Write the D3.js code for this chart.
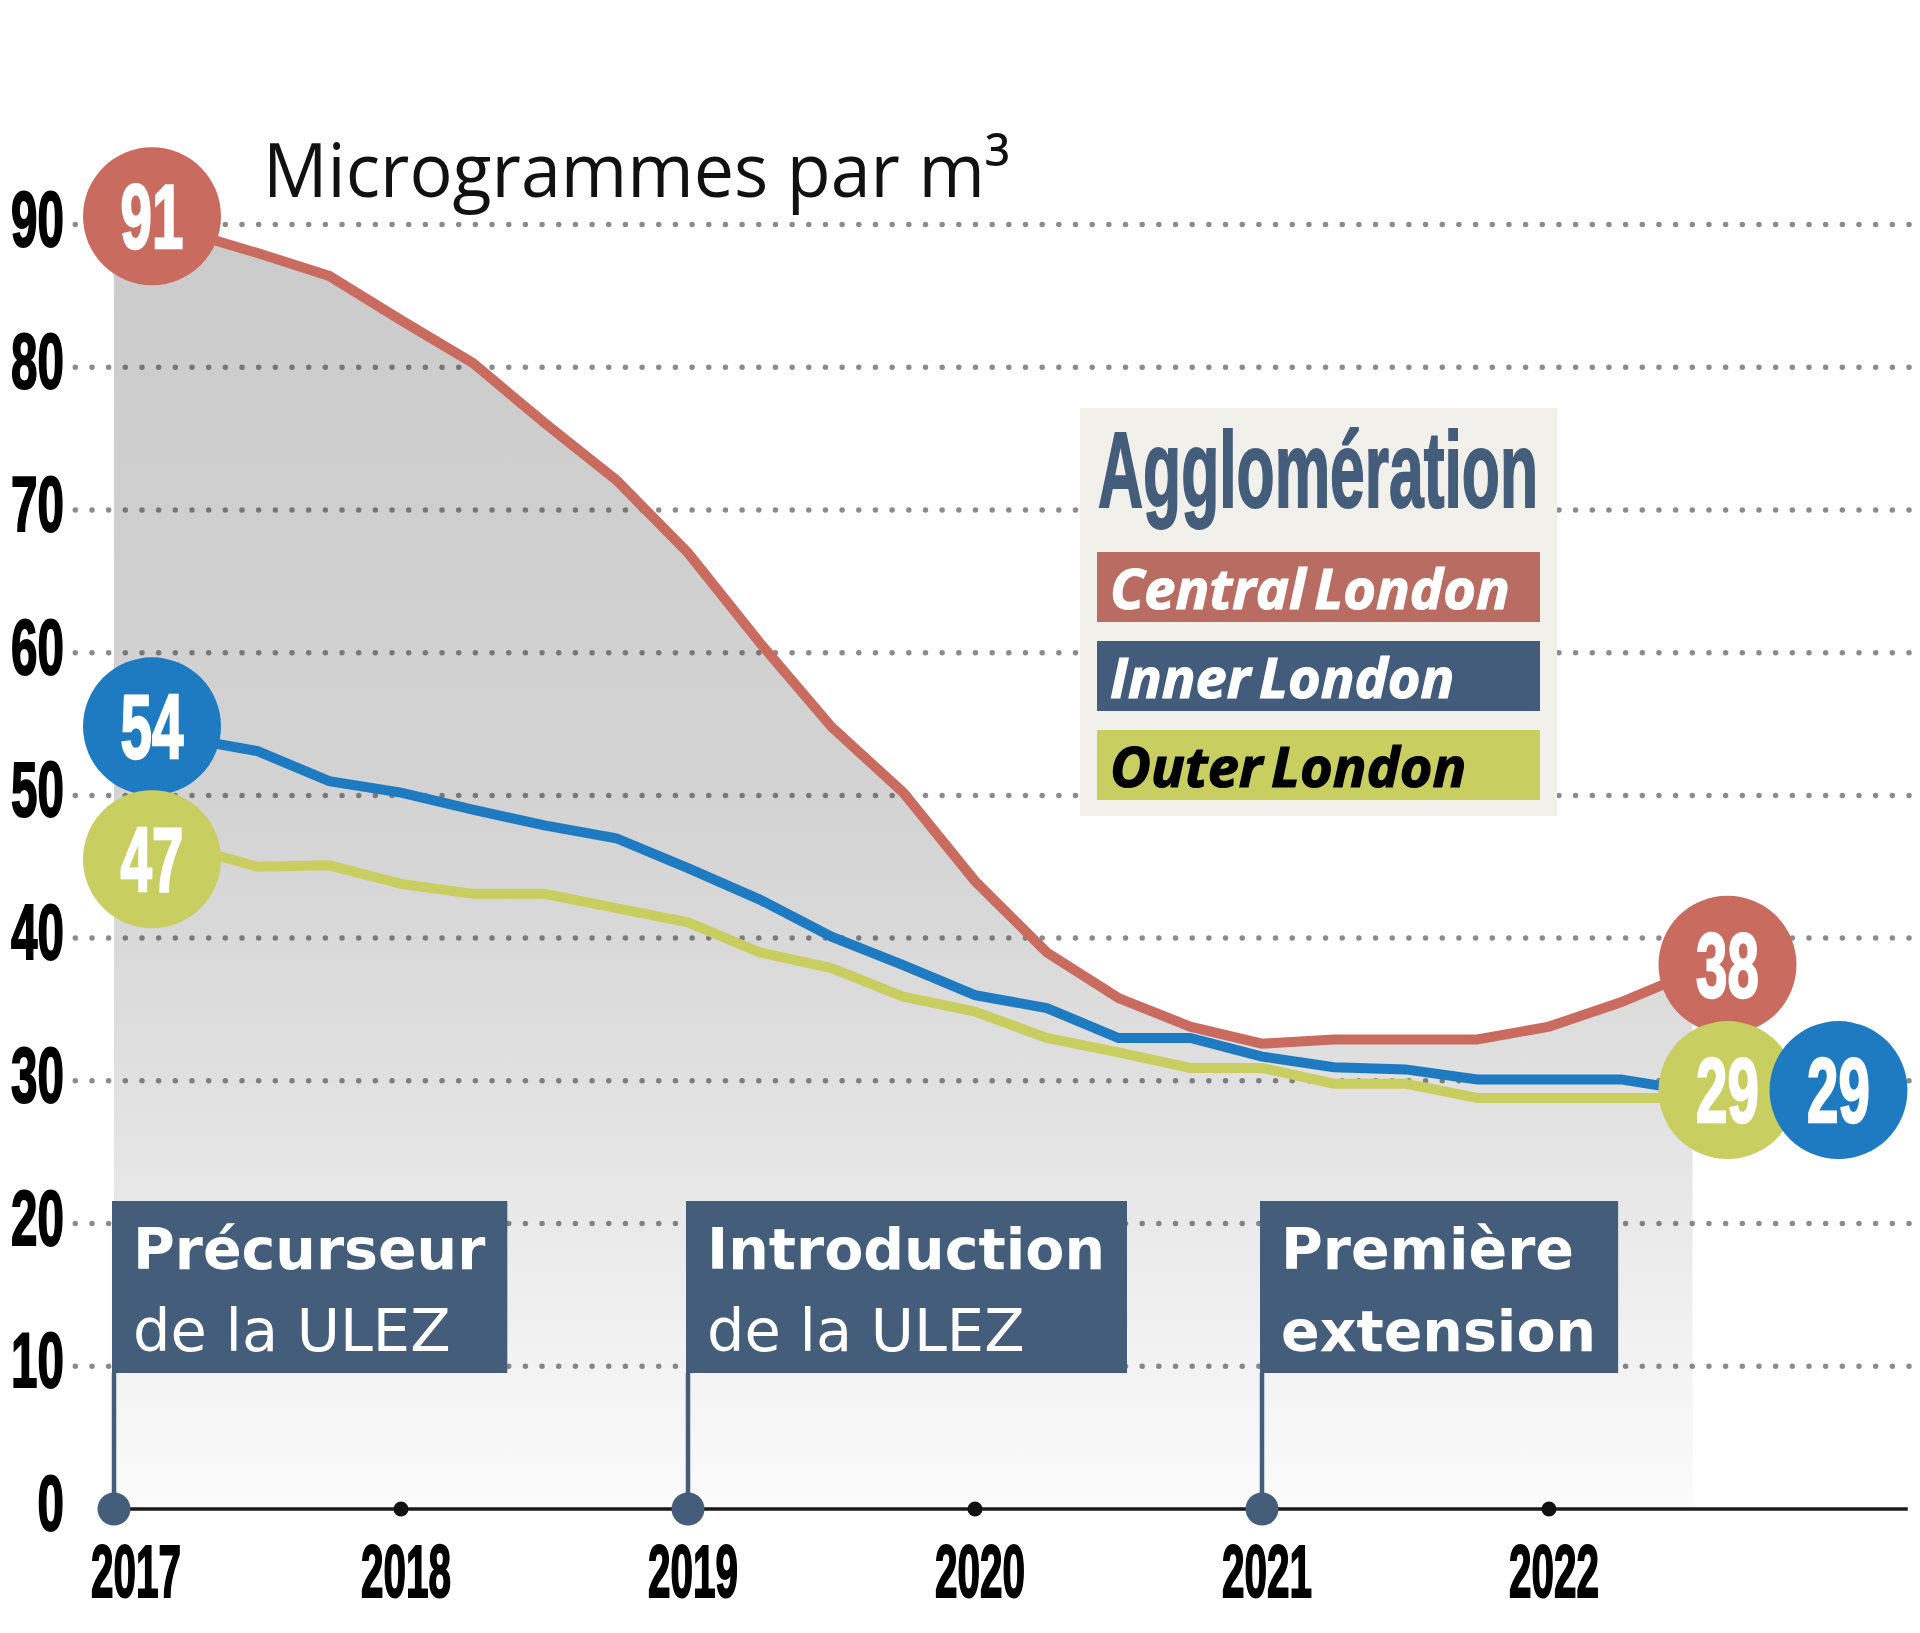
<!DOCTYPE html>
<html>
<head>
<meta charset="utf-8">
<script src="https://cdn.jsdelivr.net/npm/d3@7"></script>
<style>
  html, body { margin: 0; padding: 0; background: #fff; }
  svg { display: block; }
</style>
</head>
<body>
<div id="chart"></div>
<script>
'use strict';

// quarterly readings, fractional years
var periods = [2017, 2017.25, 2017.5, 2017.75, 2018, 2018.25, 2018.5, 2018.75,
               2019, 2019.25, 2019.5, 2019.75, 2020, 2020.25, 2020.5, 2020.75,
               2021, 2021.25, 2021.5, 2021.75, 2022, 2022.25, 2022.5];

var centralLondon = [91, 89.5, 88.0, 86.4, 83.3, 80.3, 76.1, 72.1,
                     67.0, 60.7, 54.8, 50.2, 44.0, 39.0, 35.8, 33.8,
                     32.6, 32.9, 32.9, 32.9, 33.8, 35.5, 37.6];
var innerLondon   = [54.4, 54.0, 53.1, 51.0, 50.2, 49.0, 47.9, 47.0,
                     44.9, 42.7, 40.1, 38.1, 36.0, 35.1, 33.0, 33.0,
                     31.7, 30.95, 30.8, 30.1, 30.1, 30.1, 29.3];
var outerLondon   = [47, 46.4, 45.0, 45.1, 43.8, 43.1, 43.1, 42.1,
                     41.1, 39.0, 37.9, 35.9, 34.85, 33.0, 32.0, 30.9,
                     30.9, 29.8, 29.8, 28.8, 28.8, 28.8, 28.8];

var seriesNames  = ["Central London", "Inner London", "Outer London"];
var lineColors   = ["#ca6b60", "#1f7bc1", "#c8cf60"];
var legendColors = ["#b86c62", "#445c7b", "#c8cf60"];
var legendText   = ["#fff", "#fff", "#000"];

var yTicks = [0, 10, 20, 30, 40, 50, 60, 70, 80, 90];
var xTicks = [2017, 2018, 2019, 2020, 2021, 2022];

var milestones = [2017, 2019, 2021];
var milestoneLines = [["Précurseur", "de la ULEZ"],
                      ["Introduction", "de la ULEZ"],
                      ["Première", "extension"]];
var milestoneSecondBold = [false, false, true];

var width = 1920, height = 1633;
var axisBlue = "#445d7a";

var x = d3.scaleLinear().domain([2017, 2023.25]).range([114, 1907.75]);
var y = d3.scaleLinear().domain([0, 90]).range([1509, 224.5]);

var series = [centralLondon, innerLondon, outerLondon].map(function(vals, i) {
    return {
        name: seriesNames[i],
        color: lineColors[i],
        values: periods.map(function(t, j) { return {t: t, v: vals[j]}; })
    };
});

var svg = d3.select('#chart')
    .append('svg')
    .attr('width', width)
    .attr('height', height);

svg.append('rect').attr('width', width).attr('height', height).attr('fill', '#fff');

// gradient for the area under central london
var grad = svg.append('defs').append('linearGradient')
    .attr('id', 'areaGrad')
    .attr('gradientUnits', 'userSpaceOnUse')
    .attr('x1', 0).attr('x2', 0)
    .attr('y1', y(91)).attr('y2', y(0));
[[0, '#cbcbcb'], [0.45, '#d3d3d3'], [0.61, '#dcdcdc'], [0.73, '#e5e5e5'], [0.88, '#f2f2f2'], [1, '#fbfbfb']]
    .forEach(function(s) {
        grad.append('stop').attr('offset', s[0]).attr('stop-color', s[1]);
    });

var area = d3.area()
    .x(function(d) { return x(d.t); })
    .y0(y(0))
    .y1(function(d) { return y(d.v); });

svg.append('path')
    .datum(series[0].values)
    .attr('d', area)
    .attr('fill', 'url(#areaGrad)');

// dotted gridlines
svg.append('g').selectAll('line')
    .data(yTicks.filter(function(v) { return v > 0; }))
    .enter().append('line')
    .attr('x1', 75.3).attr('x2', 1915)
    .attr('y1', function(d) { return y(d); })
    .attr('y2', function(d) { return y(d); })
    .attr('stroke', 'rgba(55,55,55,0.58)')
    .attr('stroke-width', 5.5)
    .attr('stroke-linecap', 'round')
    .attr('stroke-dasharray', '0 16.67');

// condensed text helper: scale glyphs horizontally
function condensed(sel, tx, ty, sx) {
    return sel.attr('transform', 'translate(' + tx + ',' + ty + ') scale(' + sx + ',1)');
}

// y tick labels
svg.append('g').selectAll('text')
    .data(yTicks)
    .enter().append('text')
    .each(function(d) {
        condensed(d3.select(this), 64, y(d) + 21, 0.61);
    })
    .attr('text-anchor', 'end')
    .attr('font-family', 'Liberation Sans, Arial, sans-serif')
    .attr('font-weight', 'bold')
    .attr('font-size', 78)
    .attr('fill', '#000')
    .attr('stroke', '#000')
    .attr('stroke-width', 2)
    .text(function(d) { return d; });

// lines
var line = d3.line()
    .x(function(d) { return x(d.t); })
    .y(function(d) { return y(d.v); });

[1, 2, 0].forEach(function(i) {
    svg.append('path')
        .datum(series[i].values)
        .attr('d', line)
        .attr('fill', 'none')
        .attr('stroke', series[i].color)
        .attr('stroke-width', 10);
});

// milestone boxes
var boxTop = 1201, boxH = 172;
milestones.forEach(function(yr, i) {
    var left = x(yr) - 2;
    var g = svg.append('g');
    var rect = g.append('rect')
        .attr('x', left).attr('y', boxTop)
        .attr('height', boxH)
        .attr('fill', axisBlue);
    var t1 = g.append('text')
        .attr('x', left + 21).attr('y', boxTop + 68)
        .attr('font-family', 'DejaVu Sans, sans-serif')
        .attr('font-weight', 'bold')
        .attr('font-size', 57)
        .attr('fill', '#fff')
        .text(milestoneLines[i][0]);
    var t2 = g.append('text')
        .attr('x', left + 21).attr('y', boxTop + 150)
        .attr('font-family', 'DejaVu Sans, sans-serif')
        .attr('font-weight', milestoneSecondBold[i] ? 'bold' : 'normal')
        .attr('font-size', milestoneSecondBold[i] ? 57 : 59)
        .attr('fill', '#fff')
        .text(milestoneLines[i][1]);
    var w = Math.max(t1.node().getComputedTextLength(), t2.node().getComputedTextLength());
    rect.attr('width', w + 43);
    g.append('line')
        .attr('x1', x(yr)).attr('x2', x(yr))
        .attr('y1', boxTop + boxH).attr('y2', y(0))
        .attr('stroke', axisBlue)
        .attr('stroke-width', 4.5);
});

// x axis line
svg.append('line')
    .attr('x1', x(2017)).attr('x2', x(2023.25))
    .attr('y1', y(0)).attr('y2', y(0))
    .attr('stroke', '#1a1a1a')
    .attr('stroke-width', 3.5);

svg.append('g').selectAll('circle')
    .data(xTicks)
    .enter().append('circle')
    .attr('cx', function(d) { return x(d); })
    .attr('cy', y(0))
    .attr('r', function(d) { return milestones.indexOf(d) >= 0 ? 16.5 : 7.5; })
    .attr('fill', function(d) { return milestones.indexOf(d) >= 0 ? axisBlue : '#111'; });

svg.append('g').selectAll('text')
    .data(xTicks)
    .enter().append('text')
    .each(function(d, i) {
        condensed(d3.select(this), x(d) + (i === 0 ? 22 : 5), 1597, 0.54);
    })
    .attr('text-anchor', 'middle')
    .attr('font-family', 'Liberation Sans, Arial, sans-serif')
    .attr('font-weight', 'bold')
    .attr('font-size', 75)
    .attr('fill', '#000')
    .attr('stroke', '#000')
    .attr('stroke-width', 2)
    .text(function(d) { return d; });

// value bubbles at the start and end of each series
var startNudge = [6, -12, 21];
var endNudge = [-2, -5, -5];
var endShift = [0, 111, 0];
function bubble(i, first) {
    var vals = series[i].values;
    var d = first ? vals[0] : vals[vals.length - 1];
    var label = Math.round(d.v);
    var cx = x(d.t) + (first ? 38 : 35) + (first ? 0 : endShift[i]);
    var cy = y(label) + (first ? startNudge[i] : endNudge[i]);
    svg.append('circle')
        .attr('cx', cx).attr('cy', cy).attr('r', 69)
        .attr('fill', series[i].color);
    svg.append('text')
        .call(condensed, cx, cy + 32, 0.62)
        .attr('text-anchor', 'middle')
        .attr('font-family', 'Liberation Sans, Arial, sans-serif')
        .attr('font-weight', 'bold')
        .attr('font-size', 91)
        .attr('fill', '#fff')
        .attr('stroke', '#fff')
        .attr('stroke-width', 2.5)
        .text(label);
}
[0, 1, 2].forEach(function(i) { bubble(i, true); });
[0, 2, 1].forEach(function(i) { bubble(i, false); });

// legend
var lg = svg.append('g');
lg.append('rect')
    .attr('x', 1080).attr('y', 408)
    .attr('width', 477).attr('height', 408)
    .attr('fill', '#f2f0eb');
lg.append('text')
    .call(condensed, 1098, 507, 0.583)
    .attr('font-family', 'Liberation Sans, Arial, sans-serif')
    .attr('font-weight', 'bold')
    .attr('font-size', 107)
    .attr('fill', axisBlue)
    .attr('stroke', axisBlue)
    .attr('stroke-width', 2)
    .text('Agglomération');
seriesNames.forEach(function(name, i) {
    var top = 552 + i * 89;
    lg.append('rect')
        .attr('x', 1097).attr('y', top)
        .attr('width', 443).attr('height', 70)
        .attr('fill', legendColors[i]);
    lg.append('text')
        .attr('x', 1110).attr('y', top + 57)
        .attr('font-family', 'Open Sans, sans-serif')
        .attr('font-weight', 'bold')
        .attr('font-style', 'italic')
        .attr('font-size', 56)
        .attr('word-spacing', -6)
        .attr('fill', legendText[i])
        .attr('stroke', legendText[i])
        .attr('stroke-width', 1.2)
        .text(name);
});

// unit title
svg.append('text')
    .attr('x', 263).attr('y', 197)
    .attr('font-family', 'Open Sans, sans-serif')
    .attr('font-size', 75)
    .attr('fill', '#111')
    .attr('textLength', 747)
    .attr('lengthAdjust', 'spacingAndGlyphs')
    .text('Microgrammes par m³');
</script>
</body>
</html>
